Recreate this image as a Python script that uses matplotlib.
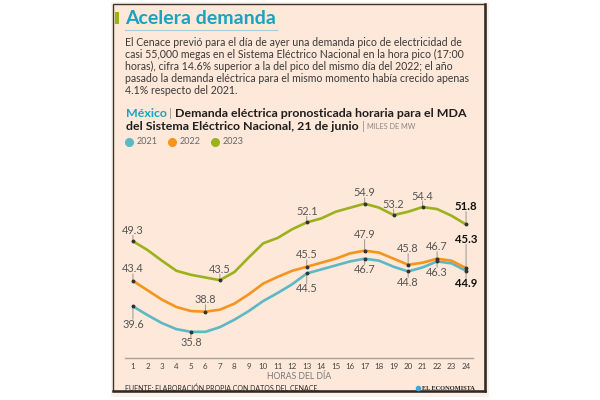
import matplotlib.pyplot as plt
from matplotlib.patches import Rectangle
from matplotlib.lines import Line2D

# data (miles de MW), hours 1..24
hours = list(range(1, 25))
d2021 = [39.6, 38.3, 37.1, 36.2, 35.8, 35.8, 36.5, 37.6, 38.9, 40.4, 41.6, 42.9,
         44.5, 45.1, 45.7, 46.3, 46.7, 46.4, 45.5, 44.8, 45.4, 46.3, 46.0, 44.9]
d2022 = [43.4, 42.0, 40.6, 39.5, 38.9, 38.8, 39.1, 40.0, 41.4, 43.0, 44.0, 44.9,
         45.5, 46.1, 46.7, 47.5, 47.9, 47.6, 46.7, 45.8, 46.1, 46.7, 46.4, 45.3]
d2023 = [49.3, 48.0, 46.4, 44.9, 44.3, 43.9, 43.5, 44.7, 46.9, 49.0, 49.8, 51.1,
         52.1, 52.7, 53.7, 54.3, 54.9, 54.3, 53.2, 53.7, 54.4, 54.1, 53.1, 51.8]
years = ['2021', '2022', '2023']
labeled = {'2021': [1, 5, 13, 17, 20, 22, 24],
           '2022': [1, 6, 13, 17, 20, 22, 24],
           '2023': [1, 7, 13, 17, 19, 21, 24]}

colors = {'2021': '#5db8c6', '2022': '#f7941d', '2023': '#9bb21c'}
teal = '#17a3c4'
bg = '#fde8d9'
FONT = 'Lato'

W, H = 600, 400
fig = plt.figure(figsize=(6, 4), dpi=100)
fig.patch.set_facecolor('white')
renderer = fig.canvas.get_renderer()


def fx(x):
    return x / W


def fy(y):
    return 1 - y / H


def ftext(x, y, s, **kw):
    kw.setdefault('family', FONT)
    return fig.text(fx(x), fy(y), s, **kw)


def width_px(t):
    return t.get_window_extent(renderer=renderer).width


# card
fig.add_artist(Rectangle((fx(111), fy(397)), 378 / W, 395 / H, transform=fig.transFigure,
                         facecolor='#fdf1e7', edgecolor='none', zorder=-3))
fig.add_artist(Rectangle((fx(113), fy(391)), 372 / W, 387 / H, transform=fig.transFigure,
                         facecolor=bg, edgecolor='#3a3530', lw=1.0, zorder=-2))
fig.add_artist(Line2D([fx(485), fx(485)], [fy(4), fy(391)], transform=fig.transFigure,
                      color='#2e2a26', lw=1.8, zorder=-1))
fig.add_artist(Line2D([fx(113), fx(485)], [fy(391), fy(391)], transform=fig.transFigure,
                      color='#2e2a26', lw=1.8, zorder=-1))

# title
fig.add_artist(Rectangle((fx(115), fy(24)), 4 / W, 12 / H, transform=fig.transFigure,
                         facecolor=colors['2023'], edgecolor='none'))
ftext(125, 19, 'Acelera demanda', fontsize=14, fontweight='bold', color=teal, va='center')
fig.add_artist(Line2D([fx(125), fx(277)], [fy(30), fy(30)], transform=fig.transFigure,
                      color='#a9ccd6', lw=0.8))

body = ['El Cenace previó para el día de ayer una demanda pico de electricidad de',
        'casi 55,000 megas en el Sistema Eléctrico Nacional en la hora pico (17:00',
        'horas), cifra 14.6% superior a la del pico del mismo día del 2022; el año',
        'pasado la demanda eléctrica para el mismo momento había crecido apenas',
        '4.1% respecto del 2021.']
for i, line in enumerate(body):
    ftext(125, 43 + i * 11.8, line, fontsize=7.6, color='#3a3a3a', va='center')

# subtitle
sub_fs = 8.9
t = ftext(126, 114, 'México', fontsize=sub_fs, fontweight='bold', color=teal, va='center')
x = 126 + width_px(t) + 2
t = ftext(x, 114, '|', fontsize=sub_fs, color='#9a9a9a', va='center')
x += width_px(t) + 3
ftext(x, 114, 'Demanda eléctrica pronosticada horaria para el MDA',
      fontsize=sub_fs, fontweight='bold', color='#1e1e1e', va='center')
t = ftext(126, 126, 'del Sistema Eléctrico Nacional, 21 de junio',
          fontsize=sub_fs, fontweight='bold', color='#1e1e1e', va='center')
x = 126 + width_px(t) + 3
t = ftext(x, 126, '|', fontsize=sub_fs, color='#9a9a9a', va='center')
x += width_px(t) + 2
ftext(x, 126.5, 'MILES DE MW', fontsize=5.3, color='#888888', va='center')

# legend
for i, yr in enumerate(years):
    x0 = 129 + i * 43
    fig.add_artist(Line2D([fx(x0)], [fy(142)], transform=fig.transFigure, marker='o',
                          markersize=5.5, color=colors[yr], lw=0))
    ftext(x0 + 8, 142, yr, fontsize=6.5, color='#666666', va='center')

# chart
ax = fig.add_axes([fx(125), fy(358), 348 / W, 208 / H])
ax.set_facecolor('none')
ax.set_xlim(0.45, 24.48)
ax.set_ylim(31.9, 62.9)
series = {'2021': d2021, '2022': d2022, '2023': d2023}
for yr in years:
    ax.plot(hours, series[yr], color=colors[yr], lw=1.9, solid_capstyle='round', zorder=3)

# label offsets in pixels (positive = above)
offsets = {'2021': {1: -18, 13: -15, 24: -13},
           '2022': {17: 16, 20: 16, 24: 29},
           '2023': {24: 18}}
default_off = {'2021': -11, '2022': 12, '2023': 11}
for yr in years:
    vals = series[yr]
    for h in labeled[yr]:
        v = vals[h - 1]
        off = offsets[yr].get(h, default_off[yr])
        bold = h == 24
        ax.plot([h], [v], marker='o', markersize=1.8, color='#333333', zorder=5)
        sign = 1 if off > 0 else -1
        ax.annotate('', xy=(h, v), xytext=(0, (off - sign * 5) * 0.72),
                    textcoords='offset points',
                    arrowprops=dict(arrowstyle='-', color='#8a8a8a', lw=0.6,
                                    shrinkA=0, shrinkB=0), zorder=4)
        ax.annotate(f'{v:.1f}', xy=(h, v), xytext=(0, off * 0.72), textcoords='offset points',
                    ha='center', va='center', fontsize=8.2 if bold else 7.8, family=FONT,
                    fontweight='bold' if bold else 'normal',
                    color='#111111' if bold else '#555555', zorder=6)

for s in ['top', 'right', 'left']:
    ax.spines[s].set_visible(False)
ax.spines['bottom'].set_color('#a8a29c')
ax.spines['bottom'].set_linewidth(1.0)
ax.set_yticks([])
ax.set_xticks(hours)
ax.tick_params(axis='x', length=0, pad=3.5, labelsize=5.8, labelcolor='#444444')
for tl in ax.get_xticklabels():
    tl.set_family(FONT)
ax.set_xlabel('HORAS DEL DÍA', fontsize=6.2, color='#777777', family=FONT, labelpad=1.5)

# footer
ftext(125, 388, 'FUENTE: ELABORACIÓN PROPIA CON DATOS DEL CENACE.', fontsize=5.0,
      color='#2a2a2a', va='center')
t = ftext(475, 388, 'EL ECONOMISTA', fontsize=4.6, fontweight='bold', color='#222222',
          va='center', ha='right', family='Liberation Serif')
fig.add_artist(Line2D([fx(475 - width_px(t) - 4)], [fy(388)], transform=fig.transFigure,
                      marker='o', markersize=3, color='#3fa9d6', lw=0))

fig.savefig('out.png', dpi=100, facecolor='white')
